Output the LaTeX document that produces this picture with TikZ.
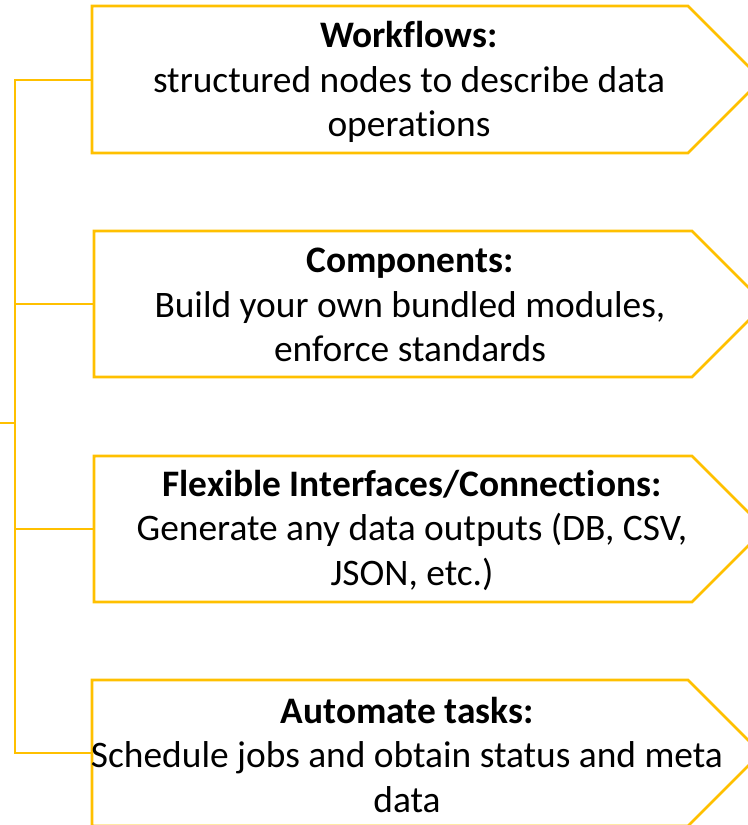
\documentclass[tikz,border=0pt]{standalone}
\usepackage{fontspec}
\setmainfont[Ligatures=NoCommon]{Carlito}
\usepackage{tikz}
\usetikzlibrary{positioning, calc}
\definecolor{gold}{HTML}{FFC000}

\begin{document}
\begin{tikzpicture}[
    x=1bp, y=-1bp,
    arrowbox/.style={draw=gold, line width=2.6bp, line join=miter},
    link/.style={draw=gold, line width=2.6bp},
    label/.style={align=center, inner sep=0pt, font=\fontsize{37.4bp}{44.5bp}\selectfont}
]
    \useasboundingbox (0,0) rectangle (748,825);

    % Boxes
    \draw[arrowbox] (92,6) -- (688,6) -- (761.5,79.5) -- (688,153) -- (92,153) -- cycle;
    \draw[arrowbox] (94,231) -- (692,231) -- (765,304) -- (692,377) -- (94,377) -- cycle;
    \draw[arrowbox] (94,456) -- (692,456) -- (765,529) -- (692,602) -- (94,602) -- cycle;
    \draw[arrowbox] (92,680) -- (688,680) -- (761,753) -- (688,826) -- (92,826) -- cycle;

    % Texts
    \node[label] (workflows) at (409,82) {\textbf{Workflows:}\\structured nodes to describe data\\operations};
    \node[label] (components) at (410,305) {\textbf{Components:}\\Build your own bundled modules,\\enforce standards};
    \node[label] (interfaces) at (412,530) {\textbf{Flexible Interfaces/Connections:}\\Generate any data outputs (DB, CSV,\\JSON, etc.)};
    \node[label] (automate) at (407,755) {\textbf{Automate tasks:}\\Schedule jobs and obtain status and meta\\data};

    % Tree
    \coordinate (root) at (0,423);
    \coordinate (spine) at (15,423);
    \coordinate (workflows in) at (92,80);
    \coordinate (components in) at (94,304);
    \coordinate (interfaces in) at (94,529);
    \coordinate (automate in) at (92,753);

    \draw[link] (root) -- (spine);
    \draw[link] (spine) |- (workflows in);
    \draw[link] (spine) |- (components in);
    \draw[link] (spine) |- (interfaces in);
    \draw[link] (spine) |- (automate in);
\end{tikzpicture}
\end{document}
